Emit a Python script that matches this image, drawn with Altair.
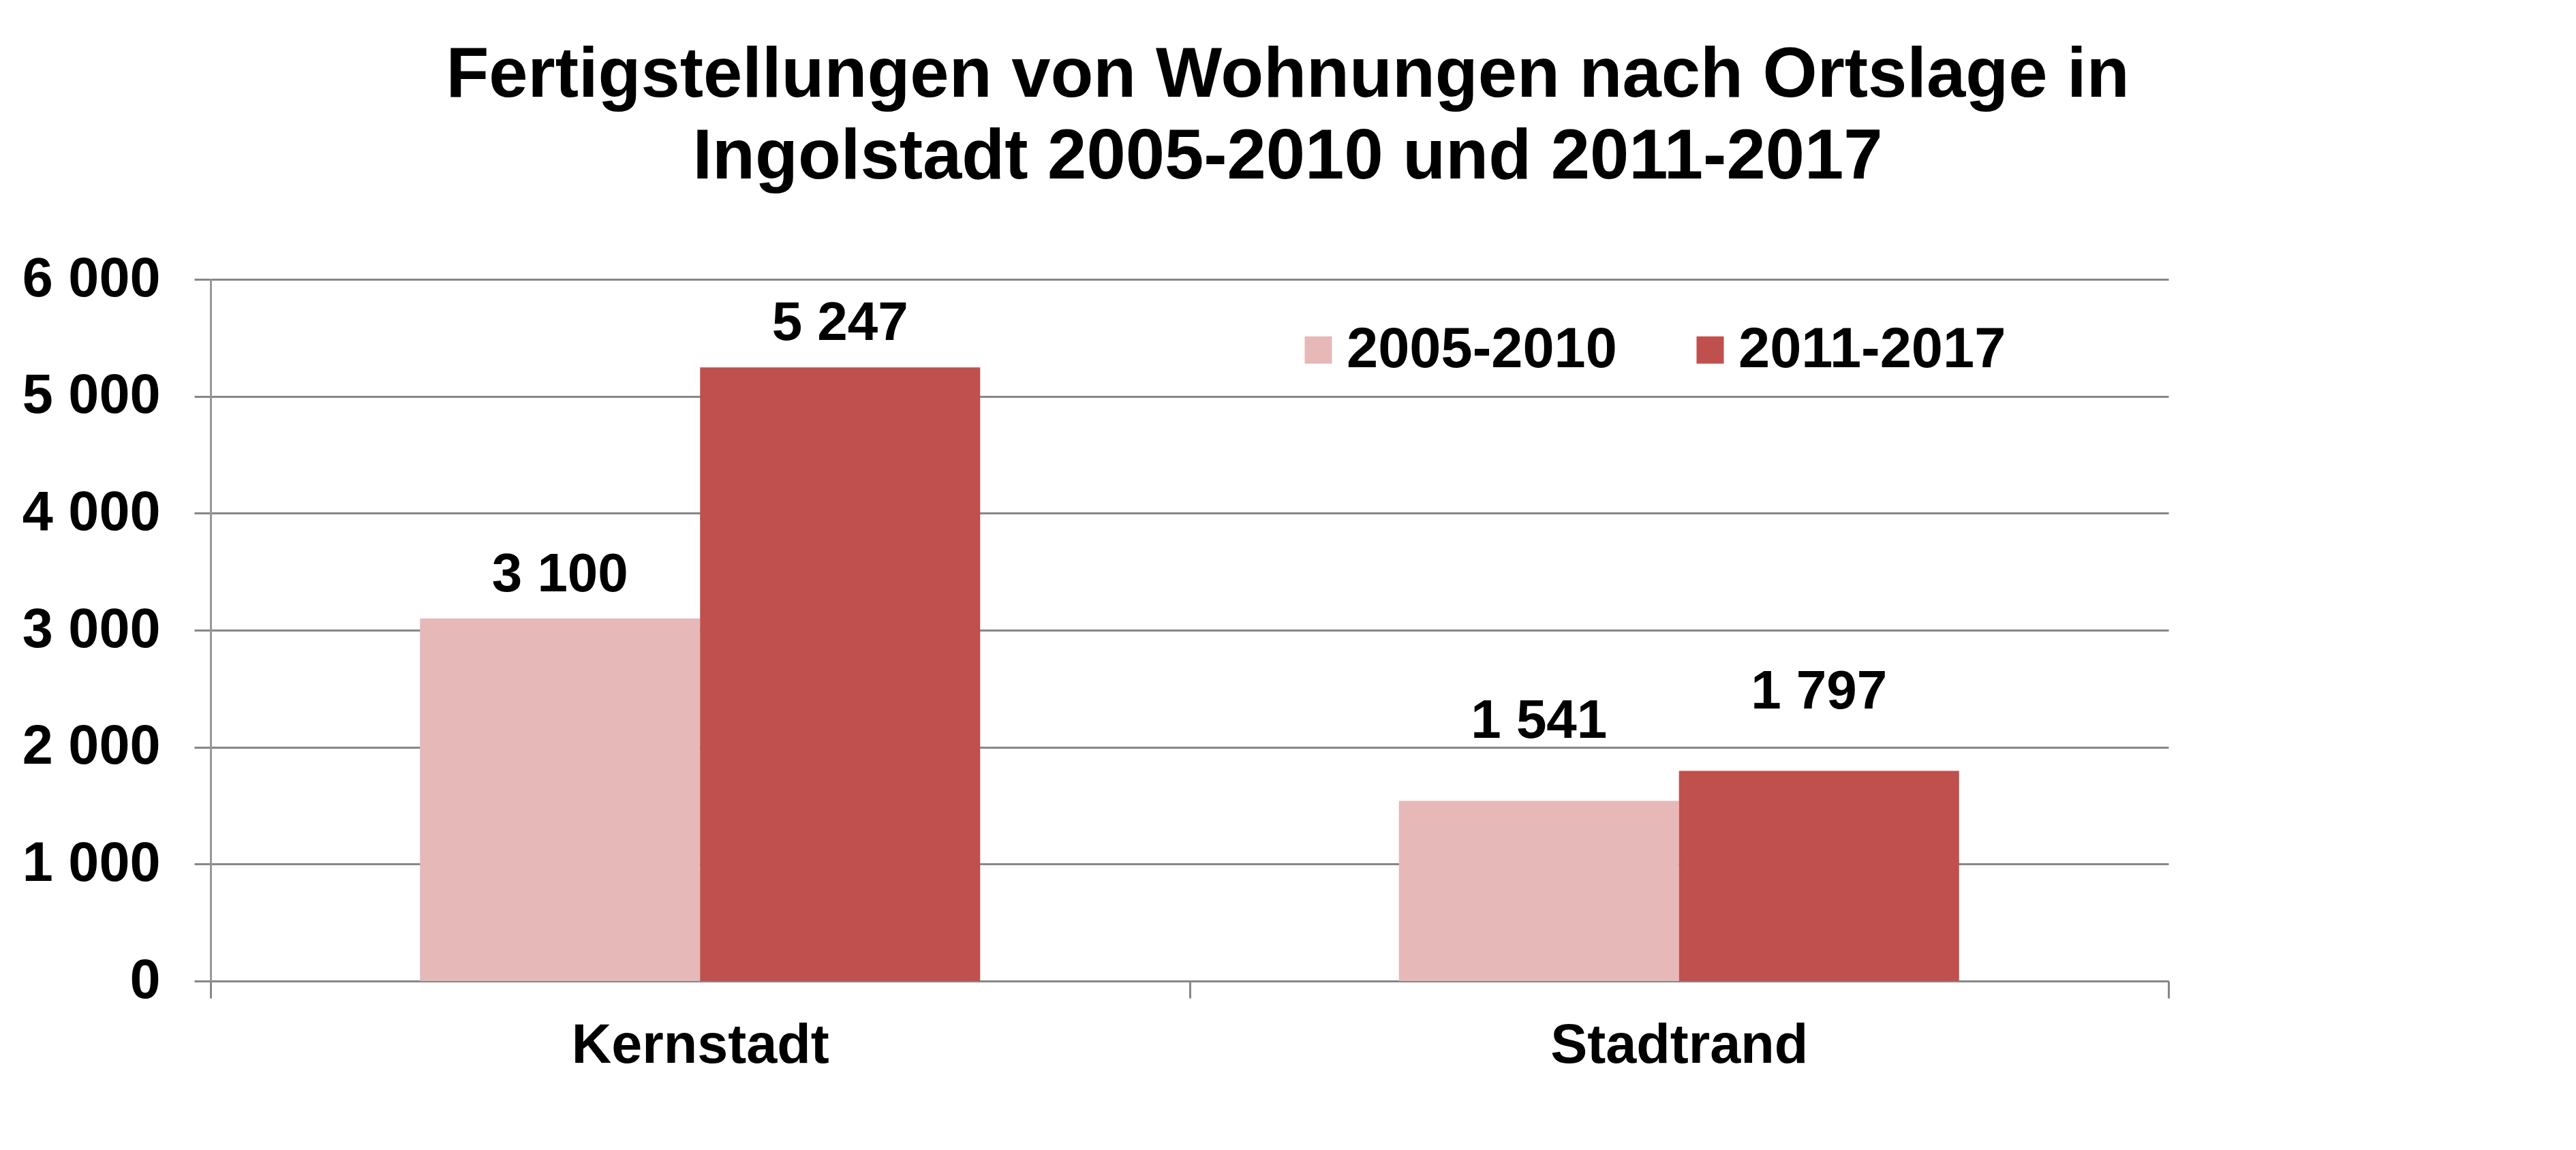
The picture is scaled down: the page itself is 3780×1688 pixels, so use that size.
import altair as alt
import pandas as pd

categories = ["Kernstadt", "Stadtrand"]
periods = ["2005-2010", "2011-2017"]
values_2005_2010 = [3100, 1541]
values_2011_2017 = [5247, 1797]
y_ticks = [0, 1000, 2000, 3000, 4000, 5000, 6000]
colors = ["#E6B9B8", "#C0504D"]

rows = []
for i, c in enumerate(categories):
    rows.append({"Ortslage": c, "Zeitraum": periods[0], "Wert": values_2005_2010[i]})
    rows.append({"Ortslage": c, "Zeitraum": periods[1], "Wert": values_2011_2017[i]})
df = pd.DataFrame(rows)

FONT = "Liberation Sans"
GRID = "#878787"

x_enc = alt.X(
    "Ortslage:N",
    sort=categories,
    scale=alt.Scale(paddingInner=0, paddingOuter=0),
    axis=alt.Axis(
        title=None,
        labelAngle=0,
        labelFont=FONT,
        labelFontSize=81,
        labelFontWeight="bold",
        labelColor="#000000",
        labelPadding=30,
        labelLimit=0,
        tickBand="extent",
        tickSize=25,
        tickWidth=3,
        tickColor=GRID,
        domainColor=GRID,
        domainWidth=3,
        grid=False,
    ),
)
xoff_enc = alt.XOffset("Zeitraum:N", sort=periods, scale=alt.Scale(paddingInner=0, paddingOuter=0.7476))
y_enc = alt.Y(
    "Wert:Q",
    scale=alt.Scale(domain=[0, 6000], nice=False),
    axis=alt.Axis(
        title=None,
        values=y_ticks,
        labelExpr="replace(format(datum.value, ','), ',', ' ')",
        labelFont=FONT,
        labelFontSize=81,
        labelFontWeight="bold",
        labelColor="#000000",
        labelPadding=50,
        labelLimit=0,
        tickSize=24,
        tickWidth=3,
        tickColor=GRID,
        domainColor="#979797",
        domainWidth=3,
        grid=True,
        gridColor=GRID,
        gridWidth=3,
        minExtent=274,
        maxExtent=274,
    ),
)

bars = alt.Chart(df).mark_bar().encode(
    x=x_enc,
    xOffset=xoff_enc,
    y=y_enc,
    color=alt.Color(
        "Zeitraum:N",
        sort=periods,
        scale=alt.Scale(domain=periods, range=colors),
        legend=alt.Legend(
            title=None,
            orient="none",
            direction="horizontal",
            legendX=1584,
            legendY=62,
            symbolType="square",
            symbolSize=1600,
            symbolStrokeWidth=0,
            labelFont=FONT,
            labelFontSize=83,
            labelFontWeight="bold",
            labelColor="#000000",
            labelOffset=0,
            labelLimit=0,
            columnPadding=95,
            padding=0,
        ),
    ),
)

base_text = alt.Chart(df).transform_calculate(
    label="replace(format(datum.Wert, ','), ',', ' ')"
)

xo_text = alt.XOffset("Zeitraum:N", sort=periods, scale=alt.Scale(paddingInner=0, paddingOuter=0.7476))

text_kern = base_text.transform_filter(alt.datum.Ortslage == categories[0]).mark_text(
    font=FONT, fontSize=80, fontWeight="bold", color="#000000", baseline="alphabetic", dy=-40
).encode(x=alt.X("Ortslage:N", sort=categories), xOffset=xo_text, y="Wert:Q", text="label:N")

text_stadt = base_text.transform_filter(alt.datum.Ortslage == categories[1]).mark_text(
    font=FONT, fontSize=80, fontWeight="bold", color="#000000", baseline="alphabetic", dy=-92
).encode(x=alt.X("Ortslage:N", sort=categories), xOffset=xo_text, y="Wert:Q", text="label:N")

chart = alt.layer(bars, text_kern, text_stadt).properties(
    width=2873,
    height=1030,
    padding={"left": 24, "top": 52, "right": 10, "bottom": 10},
    background="white",
    title=alt.TitleParams(
        text=["Fertigstellungen von Wohnungen nach Ortslage in", "Ingolstadt 2005-2010 und 2011-2017"],
        font=FONT,
        fontSize=103,
        fontWeight="bold",
        color="#000000",
        lineHeight=120,
        anchor="middle",
        frame="group",
        dx=144,
        offset=85,
    ),
).configure_view(stroke=None)

chart.save("out.html", embed_options={"renderer": "svg", "actions": False})
